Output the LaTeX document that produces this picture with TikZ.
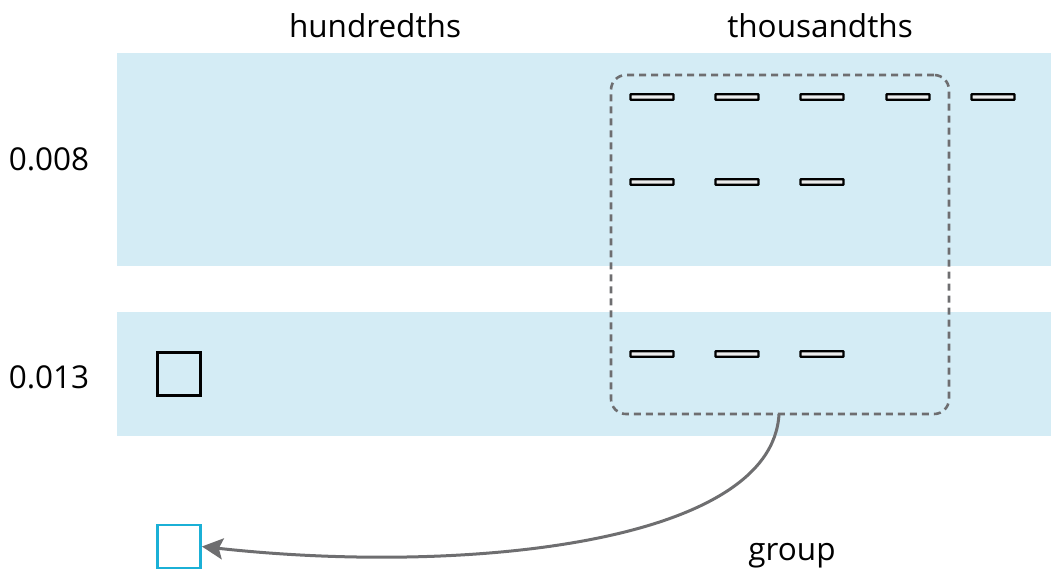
\documentclass[tikz,border=0pt]{standalone}
\usepackage{fontspec}
\setmainfont{Open Sans}
\usetikzlibrary{arrows.meta}
\definecolor{bandblue}{HTML}{D4ECF5}
\definecolor{unitcyan}{HTML}{1BB0D6}
\definecolor{linegray}{HTML}{6E6E70}
\begin{document}
\begin{tikzpicture}[x=1pt,y=-1pt,
  band/.style={fill=bandblue,draw=none},
  thinbar/.style={draw=black,fill=white!85!gray,line width=2.4pt,minimum width=43pt,minimum height=5.5pt,inner sep=0pt,rounded corners=0.6pt},
  hsquare/.style={draw=black,line width=2.8pt,minimum size=43pt,inner sep=0pt},
  label/.style={font=\fontsize{31.5}{36}\selectfont,inner sep=0pt}]
\useasboundingbox (0,0) rectangle (1051,571);
% place-value bands
\fill[band] (117,53) rectangle (1051,266);
\fill[band] (117,312) rectangle (1051,436);
% column and row labels
\node[label] (hund) at (375,26) {hundredths};
\node[label] (thou) at (820,26) {thousandths};
\node[label] (r1) at (49,159) {0.008};
\node[label] (r2) at (49,377) {0.013};
% thousandths
\foreach \i/\x in {1/652,2/737,3/822,4/908,5/993}
  \node[thinbar] (a\i) at (\x,97) {};
\foreach \i/\x in {1/652,2/737,3/822}
  \node[thinbar] (b\i) at (\x,182) {};
\foreach \i/\x in {1/652,2/737,3/822}
  \node[thinbar] (c\i) at (\x,354) {};
% hundredths
\node[hsquare] (sq) at (179,374) {};
\node[hsquare,draw=unitcyan] (newsq) at (179,546.5) {};
% grouping of ten thousandths
\node[draw=linegray,dashed,dash pattern=on 7pt off 5pt,line width=2.6pt,rounded corners=15pt,
      minimum width=338pt,minimum height=339pt,inner sep=0pt] (grp) at (780,244.5) {};
\node[label] (glabel) at (792,556) {group};
\coordinate (gs) at (779,414);
\draw[linegray,line width=3pt,-{Stealth[length=21pt,width=21pt,inset=4pt]}]
  (gs) .. controls (772,545) and (460,575) .. (newsq.east);
\end{tikzpicture}
\end{document}
